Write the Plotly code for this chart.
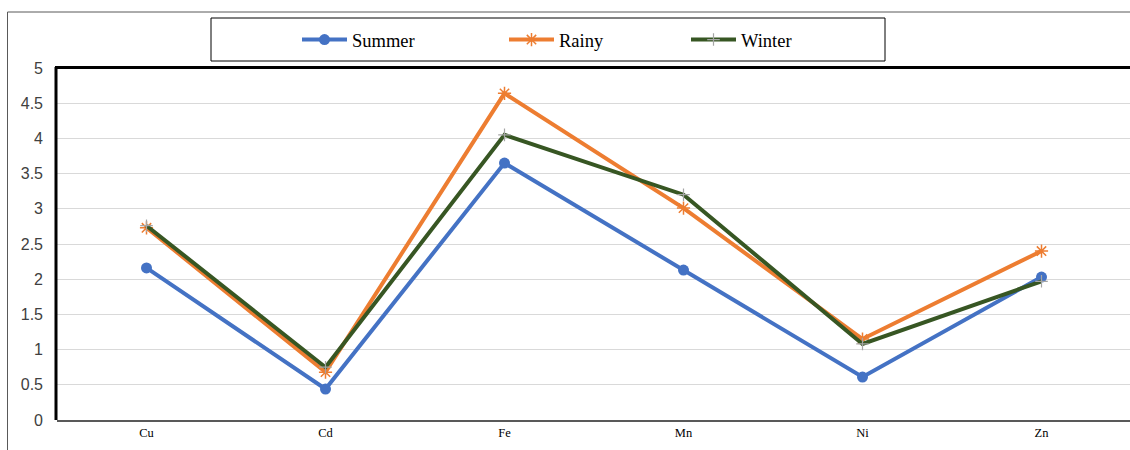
import plotly.graph_objects as go

elements = ["Cu", "Cd", "Fe", "Mn", "Ni", "Zn"]
summer = [2.16, 0.44, 3.65, 2.13, 0.61, 2.03]
rainy = [2.73, 0.68, 4.64, 3.01, 1.15, 2.40]
winter = [2.76, 0.75, 4.05, 3.20, 1.08, 1.97]
y_ticks = [0, 0.5, 1, 1.5, 2, 2.5, 3, 3.5, 4, 4.5, 5]

W, H = 1130, 450
L, R, T, B = 57, 0, 68, 30
pw, ph = W - L - R, H - T - B


def px(x):  # page x -> paper
    return (x - L) / pw


def py(y):  # page y -> paper
    return (H - B - y) / ph


fig = go.Figure()
fig.add_trace(go.Scatter(x=elements, y=summer, name="Summer", mode="lines+markers",
                         line=dict(color="#4472C4", width=4), legend="legend",
                         marker=dict(symbol="circle", size=11, color="#4472C4")))
fig.add_trace(go.Scatter(x=elements, y=rainy, name="Rainy", mode="lines+markers",
                         line=dict(color="#ED7D31", width=4), legend="legend2",
                         marker=dict(symbol="asterisk-open", size=11, color="#ED7D31",
                                     line=dict(color="#ED7D31", width=1.5))))
fig.add_trace(go.Scatter(x=elements, y=winter, name="Winter", mode="lines+markers",
                         line=dict(color="#375623", width=4), legend="legend3",
                         marker=dict(symbol="cross-thin-open", size=9, color="#A5A5A5",
                                     line=dict(color="#A5A5A5", width=1.2))))

shapes = [
    # outer chart border (top and left visible)
    dict(type="line", xref="paper", yref="paper", x0=px(7.5), x1=px(1200), y0=py(12), y1=py(12),
         line=dict(color="#595959", width=1)),
    dict(type="line", xref="paper", yref="paper", x0=px(7.5), x1=px(7.5), y0=py(500), y1=py(12),
         line=dict(color="#595959", width=1)),
    # legend box
    dict(type="rect", xref="paper", yref="paper", x0=px(211), x1=px(885), y0=py(61), y1=py(18),
         line=dict(color="#000000", width=1)),
    # plot area left and top borders
    dict(type="line", xref="paper", yref="paper", x0=px(56), x1=px(56), y0=0, y1=py(67),
         line=dict(color="#000000", width=3)),
    dict(type="line", xref="paper", yref="paper", x0=px(55), x1=px(1200), y0=py(67.5), y1=py(67.5),
         line=dict(color="#000000", width=3)),
]


def leg(xpage):
    return dict(orientation="h", x=px(xpage - 8), xanchor="left", y=py(40), yanchor="middle",
                font=dict(size=18.5, color="#000000"), bgcolor="rgba(0,0,0,0)",
                itemwidth=45, borderwidth=0)


fig.update_layout(
    width=W, height=H,
    margin=dict(l=L, r=R, t=T, b=B),
    paper_bgcolor="white", plot_bgcolor="white",
    font=dict(family="Liberation Serif, Times New Roman, serif", color="#000000"),
    showlegend=True,
    legend=leg(305), legend2=leg(512), legend3=leg(694),
    shapes=shapes,
    xaxis=dict(type="category", range=[-0.5, -0.5 + pw / 179.0], showgrid=False, showline=True,
               linecolor="#595959", linewidth=2, ticks="", tickfont=dict(size=12.5),
               zeroline=False),
    yaxis=dict(range=[0, 5], tickvals=y_ticks, ticktext=[f"{v:g}" for v in y_ticks],
               showgrid=True, gridcolor="#D9D9D9", gridwidth=1, zeroline=False,
               showline=False, ticks="",
               tickfont=dict(family="Liberation Sans, Arial, sans-serif", size=16, color="#404040"),
               ticklabelstandoff=13),
)

fig.write_html(
    "out.html",
    config={"displayModeBar": False},
    post_script="document.body.style.margin='0';document.body.style.overflow='hidden';"
                "document.documentElement.style.overflow='hidden';",
)
